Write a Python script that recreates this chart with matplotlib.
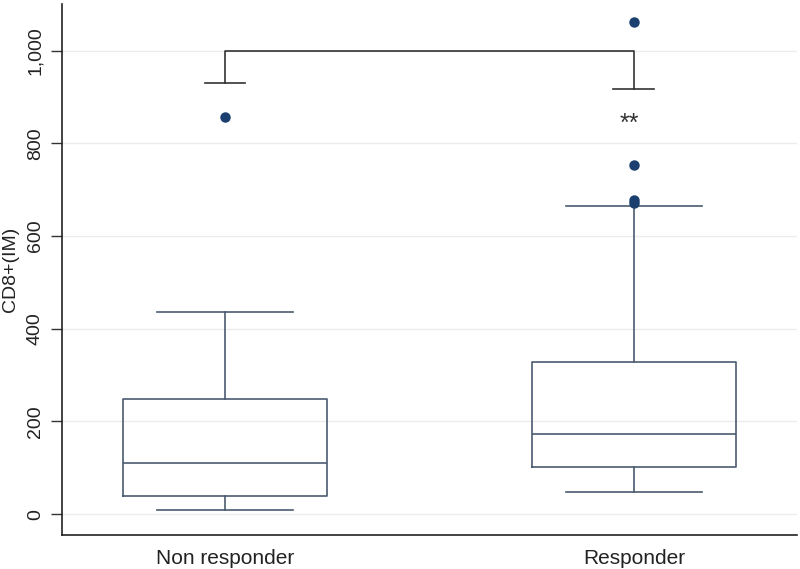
import matplotlib
matplotlib.use("Agg")
import matplotlib.pyplot as plt
from matplotlib.ticker import FuncFormatter

groups = ["Non responder", "Responder"]
whislo = [9, 47]
q1 = [39, 101]
med = [110, 173]
q3 = [249, 328]
whishi = [436, 664]
outliers_nr = [858]
outliers_r = [672, 678, 753, 1063]

bracket_top = 1000
bracket_legs = [931, 917]
sig_label = "**"
sig_y = 843

yticks = [0, 200, 400, 600, 800, 1000]

plt.rcParams['font.family'] = ['Liberation Sans', 'DejaVu Sans']

fig = plt.figure(figsize=(8, 5.69), dpi=100)
ax = fig.add_axes([0.0775, 0.0598, 0.9185, 0.9332])

box_color = "#4a5b70"
mark_color = "#1b3f6e"

stats = []
fliers = [outliers_nr, outliers_r]
for i, g in enumerate(groups):
    stats.append(dict(label=g, whislo=whislo[i], q1=q1[i], med=med[i],
                      q3=q3[i], whishi=whishi[i], fliers=fliers[i]))

positions = [1, 2]
ax.bxp(stats, positions=positions, widths=0.5, showfliers=True,
       boxprops=dict(color=box_color, linewidth=1.2),
       medianprops=dict(color=box_color, linewidth=1.2),
       whiskerprops=dict(color=box_color, linewidth=1.2),
       capprops=dict(color=box_color, linewidth=1.2),
       capwidths=0.333,
       flierprops=dict(marker='o', markerfacecolor=mark_color,
                       markeredgecolor=mark_color, markersize=6.5,
                       linestyle='none'),
       zorder=3)

# significance bracket
bc = "#333333"
ax.plot([positions[0], positions[0], positions[1], positions[1]],
        [bracket_legs[0], bracket_top, bracket_top, bracket_legs[1]],
        color=bc, linewidth=1.2, zorder=4)
for p, leg in zip(positions, bracket_legs):
    ax.plot([p - 0.05, p + 0.05], [leg, leg], color=bc, linewidth=1.2, zorder=4)
ax.text(positions[1] - 0.012, sig_y, sig_label, ha='center', va='center',
        fontsize=18, color="#333333")

ax.set_xlim(0.6015, 2.3985)
ax.set_ylim(-45, 1101)
ax.set_yticks(yticks)
ax.yaxis.set_major_formatter(FuncFormatter(lambda v, p: f"{int(v):,}"))
ax.grid(axis='y', color='#ececec', linewidth=1.0, zorder=0)
ax.set_axisbelow(True)

for lbl in ax.get_yticklabels():
    lbl.set_rotation(90)
    lbl.set_va('center')
ax.tick_params(axis='y', length=8, width=1, color='#333333', labelsize=14,
               labelcolor='#222222', pad=5)
ax.tick_params(axis='x', length=0, labelsize=15, labelcolor='#222222', pad=10)
ax.set_xticks(positions)
ax.set_xticklabels(groups)

ax.set_ylabel("CD8+(IM)", fontsize=14, color='#222222')
ax.yaxis.set_label_coords(-0.058, 0.5)

ax.spines['top'].set_visible(False)
ax.spines['right'].set_visible(False)
ax.spines['left'].set_color('#222222')
ax.spines['bottom'].set_color('#222222')
ax.spines['left'].set_linewidth(1.2)
ax.spines['bottom'].set_linewidth(1.2)

fig.savefig("out.png", dpi=100, facecolor='white')
